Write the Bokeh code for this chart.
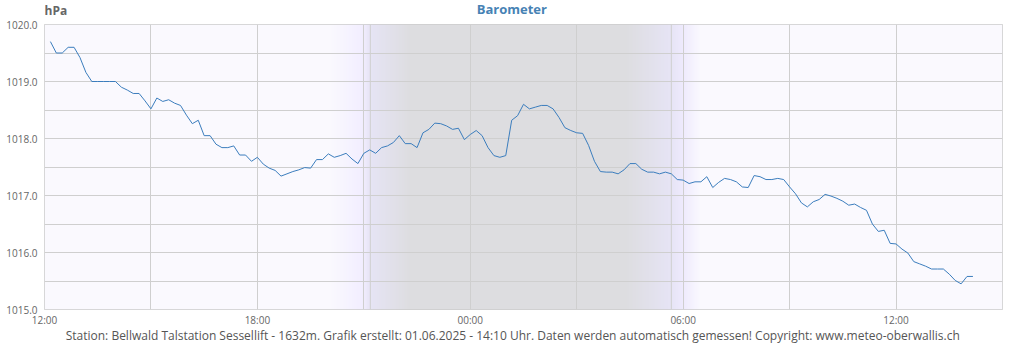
import numpy as np
from bokeh.plotting import figure
from bokeh.layouts import column
from bokeh.models import (FixedTicker, Range1d, Span, Plot, ColumnDataSource, Text)
from bokeh.core.properties import value
from bokeh.embed import file_html
from bokeh.resources import INLINE

# ---------------- data ----------------
start_hour = 10 / 60.0          # first reading 12:10 (hours after 12:00)
step_hours = 10 / 60.0          # one reading every 10 minutes
pressure = [
    1019.70, 1019.50, 1019.50, 1019.60, 1019.60, 1019.42, 1019.16, 1019.00, 1019.00, 1019.00,
    1019.00, 1019.00, 1018.90, 1018.85, 1018.79, 1018.79, 1018.66, 1018.52, 1018.71, 1018.65,
    1018.68, 1018.62, 1018.58, 1018.41, 1018.26, 1018.32, 1018.05, 1018.05, 1017.90, 1017.84,
    1017.84, 1017.87, 1017.71, 1017.71, 1017.60, 1017.67, 1017.55, 1017.48, 1017.44, 1017.34,
    1017.38, 1017.42, 1017.45, 1017.49, 1017.48, 1017.63, 1017.63, 1017.73, 1017.67, 1017.70,
    1017.74, 1017.64, 1017.56, 1017.74, 1017.80, 1017.74, 1017.84, 1017.87, 1017.93, 1018.05,
    1017.91, 1017.91, 1017.84, 1018.10, 1018.16, 1018.27, 1018.26, 1018.22, 1018.16, 1018.18,
    1017.98, 1018.07, 1018.14, 1018.05, 1017.84, 1017.70, 1017.67, 1017.70, 1018.32, 1018.40,
    1018.60, 1018.52, 1018.55, 1018.58, 1018.58, 1018.52, 1018.37, 1018.19, 1018.14, 1018.10,
    1018.09, 1017.88, 1017.60, 1017.42, 1017.41, 1017.41, 1017.38, 1017.45, 1017.56, 1017.56,
    1017.46, 1017.41, 1017.41, 1017.38, 1017.41, 1017.38, 1017.28, 1017.27, 1017.21, 1017.24,
    1017.24, 1017.33, 1017.14, 1017.23, 1017.30, 1017.28, 1017.24, 1017.15, 1017.14, 1017.35,
    1017.33, 1017.28, 1017.28, 1017.30, 1017.28, 1017.15, 1017.03, 1016.87, 1016.80, 1016.89,
    1016.93, 1017.02, 1016.99, 1016.95, 1016.90, 1016.83, 1016.85, 1016.79, 1016.74, 1016.50,
    1016.37, 1016.39, 1016.16, 1016.15, 1016.06, 1015.99, 1015.84, 1015.80, 1015.76, 1015.71,
    1015.71, 1015.71, 1015.62, 1015.51, 1015.45, 1015.58, 1015.58,
]
hours = [start_hour + i * step_hours for i in range(len(pressure))]

x_ticks = [0, 3, 6, 9, 12, 15, 18, 21, 24, 27]
x_tick_labels = {0: "12:00", 6: "18:00", 12: "00:00", 18: "06:00", 24: "12:00"}
y_ticks = [1015.0, 1015.5, 1016.0, 1016.5, 1017.0, 1017.5, 1018.0, 1018.5, 1019.0, 1019.5, 1020.0]
y_tick_labels = {1015.0: "1015.0", 1016.0: "1016.0", 1017.0: "1017.0",
                 1018.0: "1018.0", 1019.0: "1019.0", 1020.0: "1020.0"}

sunset_hour = 9 + 11 / 60.0     # 21:11
sunrise_hour = 17 + 40 / 60.0   # 05:40

# twilight / night shading colour stops (hours after 12:00 -> colour)
shade_hours = [0.0, 8.06, 8.96, 9.19, 10.32, 16.38, 17.64, 17.98, 18.49, 27.0]
shade_colors = ["#faf9fe", "#faf9fe", "#f2eeff", "#e6e4f5", "#dddde0",
                "#dddde0", "#e6e4f5", "#eeeafd", "#faf9fe", "#faf9fe"]

title_text = "Barometer"
unit_text = "hPa"
footer_text = ("Station: Bellwald Talstation Sessellift - 1632m. Grafik erstellt: 01.06.2025 - 14:10 Uhr. "
               "Daten werden automatisch gemessen! Copyright: www.meteo-oberwallis.ch")

FONT = "Open Sans"
W = 1024
HEADER_H = 18
MAIN_TOP, FRAME_H, MAIN_BOTTOM = 6, 290, 15
MAIN_H = MAIN_TOP + FRAME_H + MAIN_BOTTOM
FOOTER_H = 350 - HEADER_H - MAIN_H


def text_strip(height, items):
    """A bare Plot used as a text strip, y measured from the top."""
    f = Plot(width=W, height=height, output_backend="svg", toolbar_location=None,
             x_range=Range1d(0, W), y_range=Range1d(height, 0),
             min_border=0, min_border_left=0, min_border_right=0,
             min_border_top=0, min_border_bottom=0,
             outline_line_color=None, background_fill_color="white",
             border_fill_color="white")
    for (x, y, txt, size, style, color, align, baseline) in items:
        src = ColumnDataSource(dict(x=[x], y=[y], text=[txt]))
        f.add_glyph(src, Text(x="x", y="y", text="text", text_font=value(FONT),
                              text_font_size=size, text_font_style=style, text_color=color,
                              text_align=align, text_baseline=baseline))
    return f


# ---------------- header (title + unit) ----------------
head = text_strip(HEADER_H, [
    (499.5, 8, title_text, "13px", "bold", "#4682b4", "center", "middle"),
    (0, 9.5, unit_text, "12px", "bold", "#666666", "left", "middle"),
])

# ---------------- main chart ----------------
p = figure(width=W, height=MAIN_H, output_backend="svg", toolbar_location=None,
           x_range=Range1d(0, 27), y_range=Range1d(1015, 1020),
           min_border_left=44, min_border_right=22, min_border_top=MAIN_TOP,
           min_border_bottom=MAIN_BOTTOM)
p.background_fill_color = "#faf9fe"
p.border_fill_color = "white"
p.outline_line_color = "#cccccc"


def hex_rgb(h):
    h = h.lstrip("#")
    return [int(h[i:i + 2], 16) for i in (0, 2, 4)]


ncol = 27 * 60
xs = (np.arange(ncol) + 0.5) / 60.0
rgb = np.array([hex_rgb(c) for c in shade_colors], dtype=float)
img = np.zeros((1, ncol), dtype=np.uint32)
view = img.view(dtype=np.uint8).reshape((1, ncol, 4))
for ch in range(3):
    view[0, :, ch] = np.round(np.interp(xs, shade_hours, rgb[:, ch])).astype(np.uint8)
view[0, :, 3] = 255
p.image_rgba(image=[img], x=0, y=1015, dw=27, dh=5, level="image")

for h in (sunset_hour, sunrise_hour):
    p.add_layout(Span(location=h, dimension="height", line_color="#cfcfcf", line_width=1,
                      level="underlay"))

p.line(hours, pressure, line_color="#3b7dbd", line_width=1)

for ax in (p.xaxis[0], p.yaxis[0]):
    ax.axis_line_color = None
    ax.major_tick_line_color = None
    ax.minor_tick_line_color = None
    ax.major_tick_out = 0
    ax.major_tick_in = 0
    ax.minor_tick_out = 0
    ax.major_label_text_font = FONT
    ax.major_label_text_font_size = "10px"
    ax.major_label_text_color = "#666666"

p.xaxis.ticker = FixedTicker(ticks=x_ticks)
p.xaxis.major_label_overrides = {t: x_tick_labels.get(t, "") for t in x_ticks}
p.xaxis.major_label_standoff = 3
p.yaxis.ticker = FixedTicker(ticks=y_ticks)
p.yaxis.major_label_overrides = {t: y_tick_labels.get(t, "") for t in y_ticks}
p.yaxis.major_label_standoff = 7

p.xgrid.grid_line_color = "#cfcfcf"
p.ygrid.grid_line_color = "#cfcfcf"

# ---------------- footer ----------------
foot = text_strip(FOOTER_H, [
    (500.5, 6, footer_text, "12px", "normal", "#555555", "center", "alphabetic"),
])

layout = column(head, p, foot, spacing=0)
open("out.html", "w").write(file_html(layout, INLINE))
